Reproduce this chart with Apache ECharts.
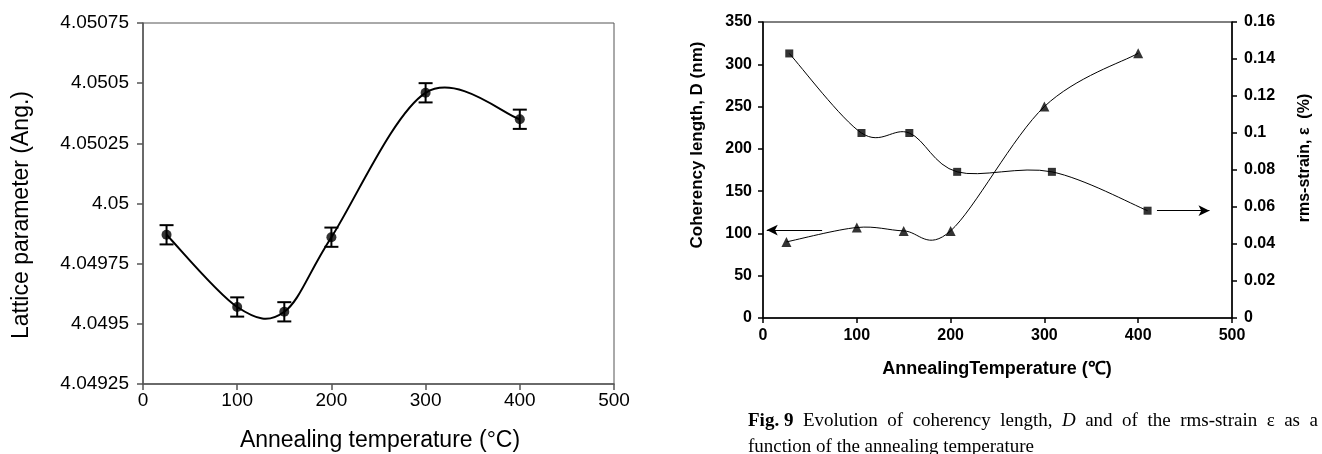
<!DOCTYPE html>
<html>
<head>
<meta charset="utf-8">
<script src="https://cdn.jsdelivr.net/npm/echarts@6/dist/echarts.min.js"></script>
<style>
html,body{margin:0;padding:0;background:#fff;}
#chart{width:1322px;height:454px;}
</style>
</head>
<body>
<div id="chart"></div>
<script>
// ---- Left chart: lattice parameter ----
const lpTemp = [25, 100, 150, 200, 300, 400];
const lpValue = [4.04987, 4.04957, 4.04955, 4.04986, 4.05046, 4.05035];
const lpErr = [0.00004, 0.00004, 0.00004, 0.00004, 0.00004, 0.00004];
const lpYTicks = [4.04925, 4.0495, 4.04975, 4.05, 4.05025, 4.0505, 4.05075];
const xTicks = [0, 100, 200, 300, 400, 500];

// ---- Right chart: coherency length and rms-strain ----
const dTemp = [25, 100, 150, 200, 300, 400];
const dValue = [90, 107, 103, 103, 250, 313];
const strainTemp = [28, 105, 156, 207, 308, 410];
const strainValue = [0.143, 0.1, 0.1, 0.079, 0.079, 0.058];
const dTicks = [0, 50, 100, 150, 200, 250, 300, 350];
const strainTicks = [0, 0.02, 0.04, 0.06, 0.08, 0.1, 0.12, 0.14, 0.16];

const chart = echarts.init(document.getElementById('chart'), null, {renderer: 'canvas'});

const sans = 'Liberation Sans, Arial, sans-serif';
const serif = 'Liberation Serif, Times New Roman, serif';
const axisGray = '#555';

// Spreadsheet-style smoothed line (cubic Bezier, Catmull-Rom tangents) drawn through the axes' scales
function splineSeries(xs, ys, xAxisIndex, yAxisIndex, width) {
  return {
    type: 'custom', xAxisIndex, yAxisIndex, silent: true, z: 2,
    data: xs.map((x, i) => [x, ys[i]]),
    encode: {x: 0, y: 1},
    renderItem: (params, api) => {
      const n = xs.length;
      const i = params.dataIndex;
      if (i >= n - 1) return null;
      const P = k => api.coord([xs[Math.max(0, Math.min(n - 1, k))], ys[Math.max(0, Math.min(n - 1, k))]]);
      const p0 = P(i - 1), p1 = P(i), p2 = P(i + 1), p3 = P(i + 2);
      return {
        type: 'bezierCurve',
        shape: {
          x1: p1[0], y1: p1[1], x2: p2[0], y2: p2[1],
          cpx1: p1[0] + (p2[0] - p0[0]) / 6, cpy1: p1[1] + (p2[1] - p0[1]) / 6,
          cpx2: p2[0] - (p3[0] - p1[0]) / 6, cpy2: p2[1] - (p3[1] - p1[1]) / 6
        },
        style: {stroke: '#000', lineWidth: width, fill: null}
      };
    }
  };
}

const arrowLine = (from, to) => ({
  silent: true, symbol: ['none', 'arrow'], symbolSize: [8, 11],
  label: {show: false}, lineStyle: {color: '#000', width: 1.2, type: 'solid'},
  data: [[{coord: from}, {coord: to}]]
});

const option = {
  backgroundColor: '#fff',
  animation: false,
  grid: [
    {left: 143, top: 23, width: 471, height: 361, show: true, borderColor: axisGray, borderWidth: 1, containLabel: false},
    {left: 763, top: 22, width: 469, height: 296, show: true, borderColor: '#000', borderWidth: 1, containLabel: false}
  ],
  xAxis: [
    {
      gridIndex: 0, type: 'value', min: xTicks[0], max: xTicks[xTicks.length - 1], interval: 100,
      axisLine: {show: true, lineStyle: {color: axisGray, width: 1.5}},
      axisTick: {show: true, length: 6, lineStyle: {color: axisGray, width: 1.5}},
      axisLabel: {fontSize: 19, fontFamily: sans, color: '#000', margin: 7},
      splitLine: {show: false}
    },
    {
      gridIndex: 1, type: 'value', min: xTicks[0], max: xTicks[xTicks.length - 1], interval: 100,
      axisLine: {show: true, lineStyle: {color: '#000', width: 1.5}},
      axisTick: {show: true, length: 5, lineStyle: {color: '#000', width: 1.5}},
      axisLabel: {fontSize: 16, fontFamily: sans, fontWeight: 'bold', color: '#000', margin: 10},
      splitLine: {show: false}
    }
  ],
  yAxis: [
    {
      gridIndex: 0, type: 'value', min: lpYTicks[0], max: lpYTicks[lpYTicks.length - 1], interval: 0.00025,
      axisLine: {show: true, lineStyle: {color: axisGray, width: 1.5}},
      axisTick: {show: true, length: 6, lineStyle: {color: axisGray, width: 1.5}},
      axisLabel: {fontSize: 19, fontFamily: sans, color: '#000', margin: 14,
        formatter: v => String(parseFloat(Number(v).toFixed(5)))},
      splitLine: {show: false}
    },
    {
      gridIndex: 1, type: 'value', min: dTicks[0], max: dTicks[dTicks.length - 1], interval: 50,
      axisLine: {show: true, lineStyle: {color: '#000', width: 1.5}},
      axisTick: {show: true, length: 5, lineStyle: {color: '#000', width: 1.5}},
      axisLabel: {fontSize: 16, fontFamily: sans, fontWeight: 'bold', color: '#000', margin: 11},
      splitLine: {show: false}
    },
    {
      gridIndex: 1, type: 'value', position: 'right', min: strainTicks[0], max: strainTicks[strainTicks.length - 1], interval: 0.02,
      axisLine: {show: true, lineStyle: {color: '#000', width: 1.5}},
      axisTick: {show: true, length: 5, lineStyle: {color: '#000', width: 1.5}},
      axisLabel: {fontSize: 16, fontFamily: sans, fontWeight: 'bold', color: '#000', margin: 12,
        formatter: v => String(parseFloat(Number(v).toFixed(3)))},
      splitLine: {show: false}
    }
  ],
  series: [
    splineSeries(lpTemp, lpValue, 0, 0, 2),
    {
      type: 'scatter', name: 'Lattice parameter', xAxisIndex: 0, yAxisIndex: 0,
      data: lpTemp.map((t, i) => [t, lpValue[i]]),
      symbol: 'circle', symbolSize: 10, itemStyle: {color: '#000'}, z: 3
    },
    {
      type: 'custom', name: 'Error', xAxisIndex: 0, yAxisIndex: 0,
      data: lpTemp.map((t, i) => [t, lpValue[i], lpErr[i]]),
      encode: {x: 0, y: 1},
      renderItem: (params, api) => {
        const x = api.value(0), y = api.value(1), e = api.value(2);
        const top = api.coord([x, y + e]);
        const bot = api.coord([x, y - e]);
        const hw = 7;
        const st = {stroke: '#000', lineWidth: 2};
        return {type: 'group', children: [
          {type: 'line', shape: {x1: top[0], y1: top[1], x2: bot[0], y2: bot[1]}, style: st},
          {type: 'line', shape: {x1: top[0] - hw, y1: top[1], x2: top[0] + hw, y2: top[1]}, style: st},
          {type: 'line', shape: {x1: bot[0] - hw, y1: bot[1], x2: bot[0] + hw, y2: bot[1]}, style: st}
        ]};
      },
      z: 4
    },
    splineSeries(dTemp, dValue, 1, 1, 1),
    {
      type: 'scatter', name: 'Coherency length', xAxisIndex: 1, yAxisIndex: 1,
      data: dTemp.map((t, i) => [t, dValue[i]]),
      symbol: 'triangle', symbolSize: 10, itemStyle: {color: '#000'}, z: 3,
      markLine: arrowLine([63, 104], [4, 104])
    },
    splineSeries(strainTemp, strainValue, 1, 2, 1),
    {
      type: 'scatter', name: 'rms-strain', xAxisIndex: 1, yAxisIndex: 2,
      data: strainTemp.map((t, i) => [t, strainValue[i]]),
      symbol: 'rect', symbolSize: 8, itemStyle: {color: '#000'}, z: 3,
      markLine: arrowLine([420, 0.058], [476, 0.058])
    }
  ],
  graphic: [
    {type: 'text', x: 22, y: 215, rotation: Math.PI / 2,
      style: {text: 'Lattice parameter (Ang.)', fontSize: 23, fontFamily: sans, fill: '#000', align: 'center', verticalAlign: 'middle'}},
    {type: 'text', x: 380, y: 441,
      style: {text: 'Annealing temperature (°C)', fontSize: 23, fontFamily: sans, fill: '#000', align: 'center', verticalAlign: 'middle'}},
    {type: 'text', x: 697, y: 145, rotation: Math.PI / 2,
      style: {text: 'Coherency length, D (nm)', fontSize: 17, fontWeight: 'bold', fontFamily: sans, fill: '#000', align: 'center', verticalAlign: 'middle'}},
    {type: 'text', x: 1305, y: 158, rotation: Math.PI / 2,
      style: {text: 'rms-strain, ε  (%)', fontSize: 16, fontWeight: 'bold', fontFamily: sans, fill: '#000', align: 'center', verticalAlign: 'middle'}},
    {type: 'text', x: 997, y: 369,
      style: {text: 'AnnealingTemperature (℃)', fontSize: 18, fontWeight: 'bold', fontFamily: sans, fill: '#000', align: 'center', verticalAlign: 'middle'}},
    {type: 'text', x: 748, y: 421,
      style: {text: '{b|Fig. 9}  Evolution  of  coherency  length,  {i|D}  and  of  the  rms-strain  ε  as  a',
        fontSize: 19, fontFamily: serif, fill: '#000', align: 'left', verticalAlign: 'middle',
        rich: {b: {fontWeight: 'bold', fontSize: 19, fontFamily: serif}, i: {fontStyle: 'italic', fontSize: 19, fontFamily: serif}}}},
    {type: 'text', x: 748, y: 447,
      style: {text: 'function of the annealing temperature', fontSize: 19, fontFamily: serif, fill: '#000', align: 'left', verticalAlign: 'middle'}}
  ]
};
chart.setOption(option);
</script>
</body>
</html>
